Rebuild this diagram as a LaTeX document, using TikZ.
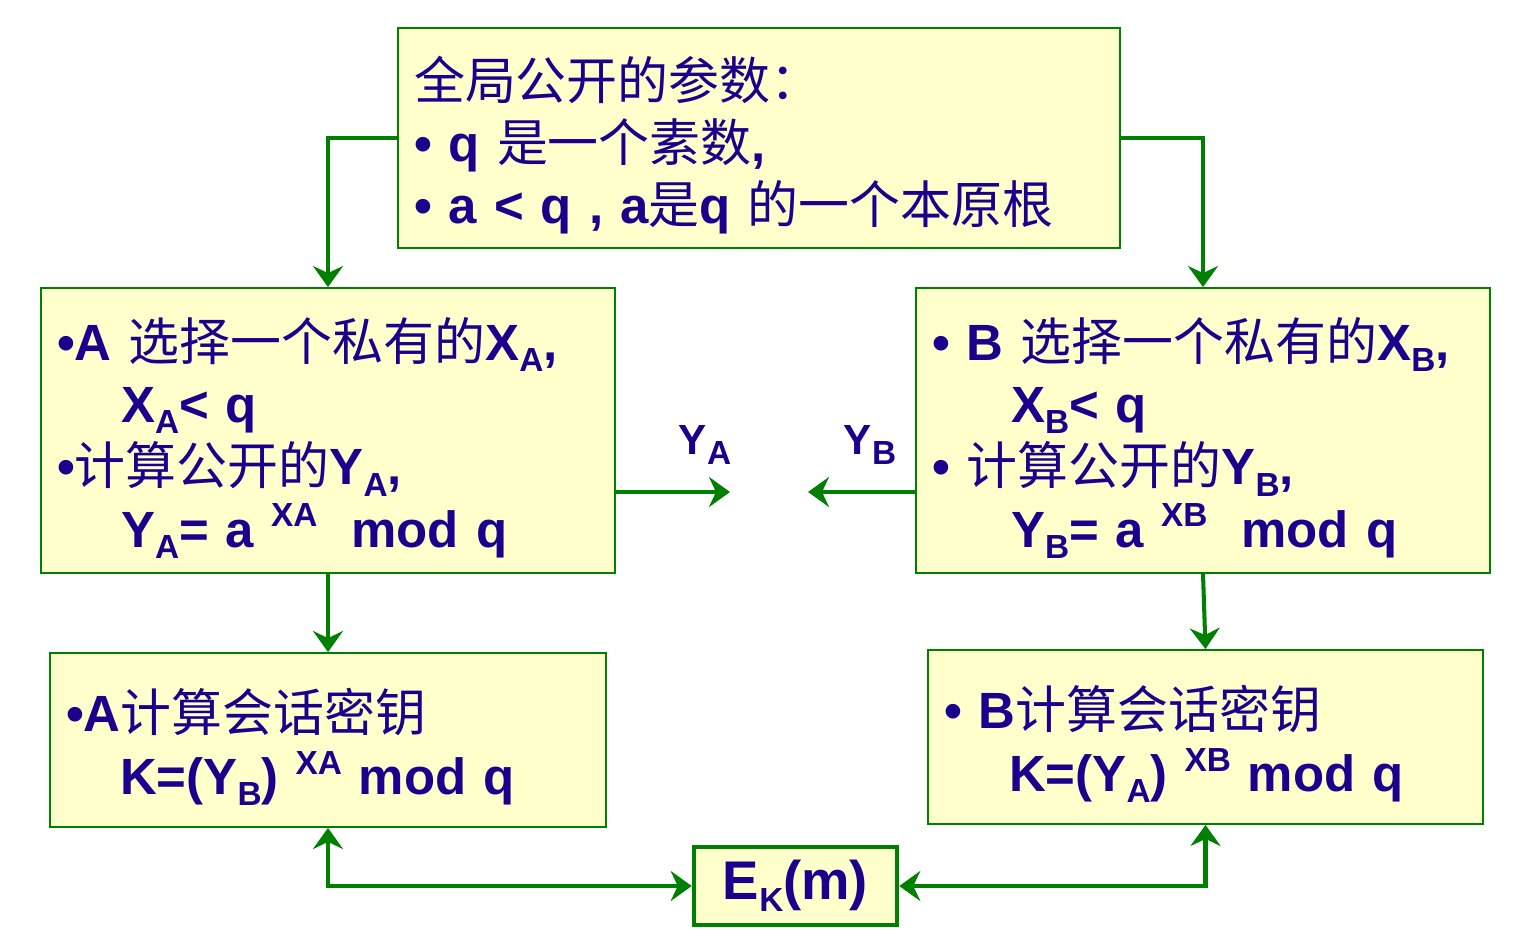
\documentclass[tikz,border=0pt]{standalone}
\usepackage{fontspec}
\setmainfont{Liberation Sans}
\newfontfamily\cjk{Noto Sans CJK SC}
\usetikzlibrary{arrows.meta}
\definecolor{boxfill}{RGB}{255,255,204}
\definecolor{linegreen}{RGB}{0,128,0}
\definecolor{txtblue}{RGB}{26,0,140}
\newcommand\zh[1]{{\cjk\mdseries #1}}
\newcommand\sbs[1]{\raisebox{-0.42ex}{\fontsize{19pt}{19pt}\selectfont #1}}
\newcommand\sps[1]{\raisebox{0.75ex}{\fontsize{19pt}{19pt}\selectfont #1}}
\newcommand\dropline{\rule{0pt}{1.15cm}}

\begin{document}
\begin{tikzpicture}[x=0.02cm,y=-0.02cm,
  >={Stealth[length=0.42cm,width=0.6cm,inset=0.14cm]},
  box/.style={draw=linegreen,line width=1.1pt,fill=boxfill,text=txtblue,align=left,inner xsep=0.32cm,font=\fontsize{29pt}{35.5pt}\selectfont\bfseries},
  lab/.style={text=txtblue,font=\fontsize{24pt}{28pt}\selectfont\bfseries},
  flow/.style={draw=linegreen,line width=2.3pt,->}]
\useasboundingbox (0,0) rectangle (1520,945);
% boxes
\node[box,minimum width=14.44cm,minimum height=4.4cm,text width=13.8cm] (pub) at (759,138)
  {\dropline\zh{全局公开的参数：}\\ • q \zh{是一个素数},\\ • a < q , a\zh{是}q \zh{的一个本原根}};
\node[box,minimum width=11.48cm,minimum height=5.7cm,text width=10.84cm] (selA) at (328,430.5)
  {\dropline•A \zh{选择一个私有的}X\sbs{A},\\ \hspace*{1.28cm}X\sbs{A}< q\\ •\zh{计算公开的}Y\sbs{A},\\ \hspace*{1.28cm}Y\sbs{A}= a \sps{XA}\ \ mod q};
\node[box,minimum width=11.48cm,minimum height=5.7cm,text width=10.84cm] (selB) at (1203,430.5)
  {\dropline• B \zh{选择一个私有的}X\sbs{B},\\ \hspace*{1.58cm}X\sbs{B}< q\\ • \zh{计算公开的}Y\sbs{B},\\ \hspace*{1.58cm}Y\sbs{B}= a \sps{XB}\ \ mod q};
\node[box,minimum width=11.12cm,minimum height=3.48cm,text width=10.48cm] (keyA) at (328,740)
  {\dropline•A\zh{计算会话密钥}\\ \hspace*{1.08cm}K=(Y\sbs{B}) \sps{XA} mod q};
\node[box,minimum width=11.1cm,minimum height=3.48cm,text width=10.46cm] (keyB) at (1205.5,737)
  {\dropline• B\zh{计算会话密钥}\\ \hspace*{1.3cm}K=(Y\sbs{A}) \sps{XB} mod q};
\node[box,line width=2.6pt,minimum width=4.06cm,minimum height=1.56cm,font=\fontsize{31pt}{35pt}\selectfont\bfseries] (ek) at (795.5,886) {E\sbs{K}(m)};
% exchanged values
\node[lab] (ya) at (705,445) {Y\sbs{A}};
\node[lab] (yb) at (870,445) {Y\sbs{B}};
\coordinate (yaend) at (730,492);
\coordinate (ybend) at (808,492);
% connectors
\draw[flow] (pub.west) -| (selA.north);
\draw[flow] (pub.east) -| (selB.north);
\draw[flow] (selA.south) -- (keyA.north);
\draw[flow] (selB.south) -- (keyB.north);
\draw[flow] (selA.east |- yaend) -- (yaend);
\draw[flow] (selB.west |- ybend) -- (ybend);
\draw[flow,<->] (keyA.south) |- (ek.west);
\draw[flow,<->] (keyB.south) |- (ek.east);
\end{tikzpicture}
\end{document}
